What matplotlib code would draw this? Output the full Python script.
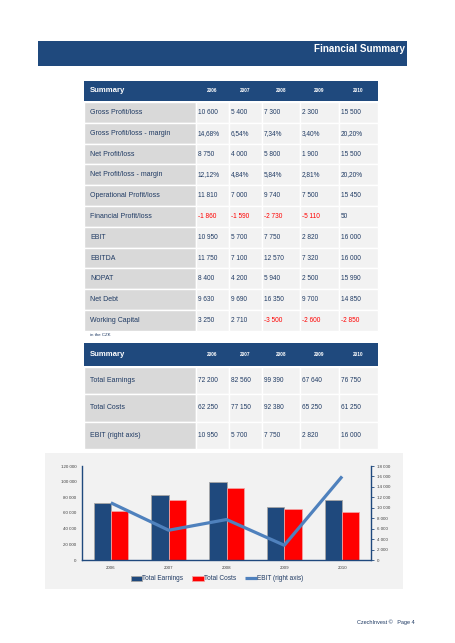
import matplotlib
matplotlib.use('Agg')
import matplotlib.pyplot as plt
from matplotlib.patches import Rectangle

plt.rcParams['font.family'] = ['Liberation Sans', 'DejaVu Sans']

# Data
years = ['2006', '2007', '2008', '2009', '2010']

summary_labels = ['Gross Profit/loss', 'Gross Profit/loss - margin', 'Net Profit/loss',
                  'Net Profit/loss - margin', 'Operational Profit/loss', 'Financial Profit/loss',
                  'EBIT', 'EBITDA', 'NOPAT', 'Net Debt', 'Working Capital']
summary_values = [
    ['10 600', '5 400', '7 300', '2 300', '15 500'],
    ['14,68%', '6,54%', '7,34%', '3,40%', '20,20%'],
    ['8 750', '4 000', '5 800', '1 900', '15 500'],
    ['12,12%', '4,84%', '5,84%', '2,81%', '20,20%'],
    ['11 810', '7 000', '9 740', '7 500', '15 450'],
    ['-1 860', '-1 590', '-2 730', '-5 110', '50'],
    ['10 950', '5 700', '7 750', '2 820', '16 000'],
    ['11 750', '7 100', '12 570', '7 320', '16 000'],
    ['8 400', '4 200', '5 940', '2 500', '15 990'],
    ['9 630', '9 690', '16 350', '9 700', '14 850'],
    ['3 250', '2 710', '-3 500', '-2 600', '-2 850'],
]

total_earnings = [72200, 82560, 99390, 67640, 76750]
total_costs = [62250, 77150, 92380, 65250, 61250]
ebit = [10950, 5700, 7750, 2820, 16000]
chart_labels = ['Total Earnings', 'Total Costs', 'EBIT (right axis)']

left_ticks = [0, 20000, 40000, 60000, 80000, 100000, 120000]
right_ticks = [0, 2000, 4000, 6000, 8000, 10000, 12000, 14000, 16000, 18000]

# Colours
navy = '#1F497D'
text_navy = '#1F3A63'
red = '#FF0000'
line_blue = '#4F81BD'
label_gray = '#D9D9D9'
cell_gray = '#F2F2F2'


def fmt(v):
    return '{:,}'.format(v).replace(',', ' ')


fig = plt.figure(figsize=(4.55, 6.43), dpi=100)
fig.patch.set_facecolor('white')

# page axes in pixel coordinates
page = fig.add_axes([0, 0, 1, 1])
page.set_xlim(0, 455)
page.set_ylim(643, 0)
page.axis('off')

# title bar
page.add_patch(Rectangle((38, 41), 369, 25, color=navy, lw=0))
page.text(405, 48.5, 'Financial Summary', color='white', fontsize=7.1,
          fontweight='bold', ha='right', va='center')

col_edges = [84, 196, 229, 262, 300, 339, 378]


def draw_table(top, head_h, row_h, labels, values):
    page.add_patch(Rectangle((col_edges[0], top), col_edges[-1] - col_edges[0], head_h,
                             color=navy, lw=0))
    page.text(90, top + head_h / 2, 'Summary', color='white', fontsize=5.6,
              fontweight='bold', va='center', ha='left')
    for j, y in enumerate(years):
        cx = (col_edges[j + 1] + col_edges[j + 2]) / 2
        page.text(cx, top + head_h / 2, y, color='white', fontsize=3.4,
                  fontweight='bold', va='center', ha='center')
    y0 = top + head_h + 1
    for i, lab in enumerate(labels):
        ry = y0 + i * row_h
        for j in range(6):
            x0 = col_edges[j]
            w = col_edges[j + 1] - x0
            fc = label_gray if j == 0 else cell_gray
            page.add_patch(Rectangle((x0, ry), w, row_h, facecolor=fc,
                                     edgecolor='white', lw=1.0))
        cy = ry + row_h / 2
        page.text(90, cy, lab, color=text_navy, fontsize=5.0, va='center', ha='left')
        for j, v in enumerate(values[i]):
            c = red if v.startswith('-') else text_navy
            page.text(col_edges[j + 1] + 2, cy, v, color=c, fontsize=4.7,
                      va='center', ha='left')
    return y0 + len(labels) * row_h


bottom1 = draw_table(81, 20, 20.8, summary_labels, summary_values)
page.text(90, 334.5, 'in the CZK', color=text_navy, fontsize=3.2, va='center', ha='left')

table2_values = [[fmt(v) for v in total_earnings],
                 [fmt(v) for v in total_costs],
                 [fmt(v) for v in ebit]]
draw_table(343, 23, 27.3, chart_labels, table2_values)

# chart panel
page.add_patch(Rectangle((45, 453), 358, 136, color=cell_gray, lw=0))

# footer
page.text(415, 622, 'CzechInvest \u00a9   Page 4', color=text_navy, fontsize=4.0,
          va='center', ha='right')

# chart
ax = fig.add_axes([82 / 455, (643 - 560) / 643, (371 - 82) / 455, (560 - 466) / 643])
ax.patch.set_alpha(0)
x = list(range(len(years)))
w = 0.3
b1 = ax.bar([i - w / 2 for i in x], total_earnings, w, color=navy,
            edgecolor='#A6A6A6', lw=0.6, label=chart_labels[0])
b2 = ax.bar([i + w / 2 for i in x], total_costs, w, color=red,
            edgecolor='#F4A0A0', lw=0.6, label=chart_labels[1])
ax.set_xlim(-0.5, 4.5)
ax.set_ylim(0, 120000)
ax.set_yticks(left_ticks)
ax.set_yticklabels([fmt(t) for t in left_ticks])
ax.set_xticks(x)
ax.set_xticklabels(years)
ax.tick_params(axis='y', length=0, labelsize=3.2, colors='#404040', pad=4)
ax.tick_params(axis='x', length=0, labelsize=3.2, colors='#404040', pad=4)
for s in ['top', 'right']:
    ax.spines[s].set_visible(False)
for s in ['left', 'bottom']:
    ax.spines[s].set_color(navy)
    ax.spines[s].set_linewidth(1.0)

ax2 = ax.twinx()
ln, = ax2.plot(x, ebit, color=line_blue, lw=2.3, label=chart_labels[2],
               solid_capstyle='butt')
ax2.set_ylim(0, 18000)
ax2.set_yticks(right_ticks)
ax2.set_yticklabels([fmt(t) for t in right_ticks])
ax2.tick_params(axis='y', length=2, width=0.6, color=navy, labelsize=3.2,
                labelcolor='#404040', pad=2)
for s in ['top', 'left', 'bottom']:
    ax2.spines[s].set_visible(False)
ax2.spines['right'].set_color(navy)
ax2.spines['right'].set_linewidth(1.0)

fig.legend([b1, b2, ln], chart_labels, loc='center', ncol=3,
           bbox_to_anchor=(217 / 455, (643 - 579) / 643), frameon=False,
           fontsize=4.7, handlelength=1.7, handleheight=0.8, handletextpad=0.1,
           columnspacing=1.4, labelcolor=text_navy)

fig.savefig('out.png', dpi=100)
